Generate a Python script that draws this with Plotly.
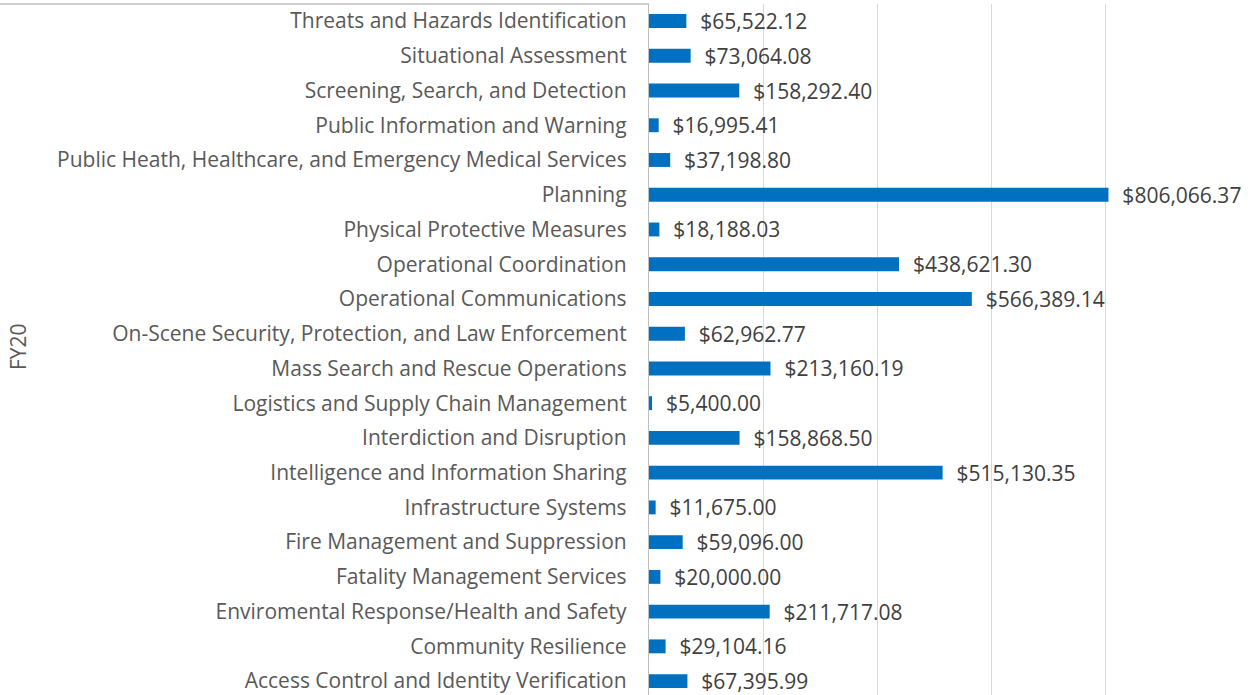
import plotly.graph_objects as go

# categories bottom -> top, as plotly draws them
categories = [
    "Access Control and Identity Verification",
    "Community Resilience",
    "Enviromental Response/Health and Safety",
    "Fatality Management Services",
    "Fire Management and Suppression",
    "Infrastructure Systems",
    "Intelligence and Information Sharing",
    "Interdiction and Disruption",
    "Logistics and Supply Chain Management",
    "Mass Search and Rescue Operations",
    "On-Scene Security, Protection, and Law Enforcement",
    "Operational Communications",
    "Operational Coordination",
    "Physical Protective Measures",
    "Planning",
    "Public Heath, Healthcare, and Emergency Medical Services",
    "Public Information and Warning",
    "Screening, Search, and Detection",
    "Situational Assessment",
    "Threats and Hazards Identification",
]
amounts = [
    67395.99, 29104.16, 211717.08, 20000.00, 59096.00,
    11675.00, 515130.35, 158868.50, 5400.00, 213160.19,
    62962.77, 566389.14, 438621.30, 18188.03, 806066.37,
    37198.80, 16995.41, 158292.40, 73064.08, 65522.12,
]
group_label = "FY20"

W, H = 1256, 695
L, R, T, B = 649, 37, 4, 0
plot_w = W - L - R

BLUE = "#0070C0"
TEXT = "#595959"
FONT = "'Open Sans', sans-serif"
SIZE = 21

fig = go.Figure(go.Bar(
    x=amounts, y=categories, orientation="h",
    marker=dict(color=BLUE, line_width=0),
    texttemplate="\u00a0\u00a0$%{x:,.2f}",
    textposition="outside",
    textfont=dict(size=SIZE, color="#404040", family=FONT),
    constraintext="none",
    cliponaxis=False,
    hoverinfo="skip",
))

fig.update_layout(
    width=W, height=H,
    margin=dict(l=L, r=R, t=T, b=B),
    paper_bgcolor="white", plot_bgcolor="white",
    bargap=0.6,
    showlegend=False,
    font=dict(family=FONT, color=TEXT, size=SIZE),
)
fig.update_xaxes(
    range=[0, 1000000], dtick=200000,
    showticklabels=False, showgrid=True,
    gridcolor="#d9d9d9", gridwidth=1.3,
    zeroline=False, showline=False,
)
fig.update_yaxes(
    type="category",
    range=[-0.40, 19.49],
    showgrid=False, zeroline=False,
    showline=True, linecolor="#bfbfbf", linewidth=1.3,
    ticks="", ticklabelstandoff=17,
    tickfont=dict(size=SIZE, color=TEXT, family=FONT),
)

# outer (multi-level) category label and divider line
fig.add_annotation(
    text=group_label, textangle=-90,
    xref="paper", yref="paper",
    x=(18 - L) / plot_w, y=0.505,
    xanchor="center", yanchor="middle",
    showarrow=False, font=dict(size=SIZE, color=TEXT, family=FONT),
)
fig.add_shape(
    type="line", xref="paper", yref="paper",
    x0=-L / plot_w, x1=0, y0=1, y1=1,
    line=dict(color="#bfbfbf", width=1.3),
)

# drop the default 8px body margin so the figure sits at the page corner
fig.write_html(
    "out.html",
    config={"displayModeBar": False},
    post_script="document.body.style.margin='0';",
)
